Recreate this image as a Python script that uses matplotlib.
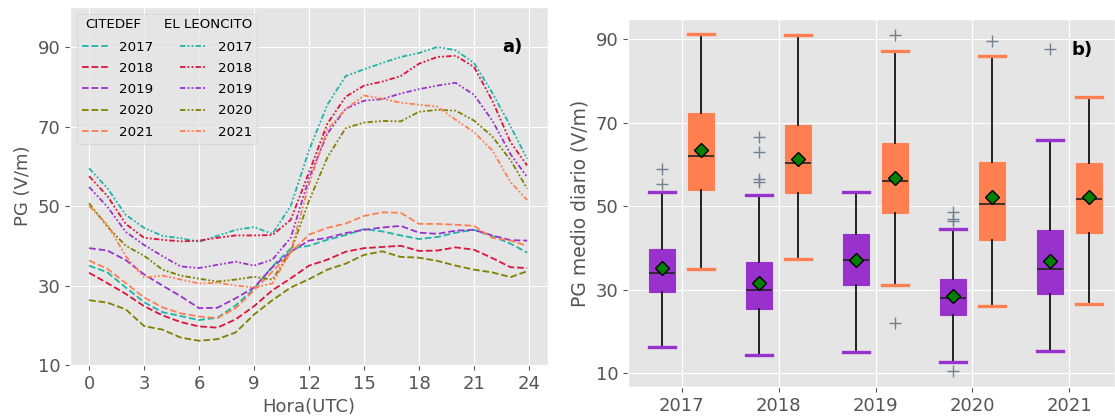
import matplotlib
matplotlib.use('Agg')
import matplotlib.pyplot as plt
from matplotlib.lines import Line2D
from matplotlib.legend_handler import HandlerBase
from matplotlib.text import Text

plt.style.use('ggplot')

# ---------------- data: panel a) ----------------
hours = [0, 1, 2, 3, 4, 5, 6, 7, 8, 9, 10, 11, 12, 13, 14, 15, 16, 17, 18, 19, 20, 21, 22, 23, 23.9]
years = ['2017', '2018', '2019', '2020', '2021']
colors = ['lightseagreen', 'crimson', 'darkorchid', 'olive', 'coral']

citedef_2017 = [35.0, 33.3, 29.5, 25.8, 23.3, 22.3, 21.3, 21.9, 25.0, 29.2, 34.8, 39.3, 40.0, 41.5, 42.7, 44.2, 43.6, 42.6, 41.7, 42.2, 43.3, 44.0, 42.4, 40.5, 38.3]
citedef_2018 = [33.2, 30.6, 27.9, 24.8, 22.5, 20.8, 19.7, 19.4, 21.5, 24.8, 28.8, 31.8, 35.0, 36.5, 38.5, 39.4, 39.7, 40.0, 38.7, 38.8, 39.6, 39.0, 36.9, 34.6, 34.4]
citedef_2019 = [39.4, 38.8, 36.4, 32.8, 30.0, 27.3, 24.3, 24.4, 26.8, 29.5, 34.6, 38.5, 41.3, 42.0, 43.2, 44.0, 44.6, 45.0, 43.3, 43.0, 43.8, 44.0, 42.6, 41.4, 41.3]
citedef_2020 = [26.3, 25.7, 24.0, 19.8, 18.9, 16.9, 16.1, 16.5, 18.2, 22.7, 26.3, 29.5, 31.6, 34.0, 35.5, 37.7, 38.6, 37.2, 37.0, 36.2, 35.0, 34.0, 33.3, 32.1, 33.6]
citedef_2021 = [36.3, 34.2, 30.6, 27.0, 24.5, 23.0, 22.2, 21.8, 24.3, 28.8, 33.5, 38.3, 42.8, 44.5, 45.6, 47.5, 48.4, 48.3, 45.5, 45.5, 45.3, 45.0, 42.0, 41.3, 40.0]

leoncito_2017 = [59.5, 54.5, 47.8, 44.5, 42.5, 41.9, 41.0, 42.5, 44.0, 44.7, 43.0, 50.0, 64.0, 75.5, 82.7, 84.4, 86.0, 87.5, 88.5, 90.0, 89.2, 86.0, 78.5, 70.0, 61.9]
leoncito_2018 = [57.5, 52.5, 45.5, 42.0, 41.5, 41.1, 41.3, 42.0, 42.6, 42.6, 42.7, 46.5, 58.5, 70.7, 77.5, 80.3, 81.3, 82.7, 85.8, 87.5, 87.8, 85.0, 76.5, 66.0, 60.2]
leoncito_2019 = [54.8, 49.8, 43.5, 40.2, 37.4, 34.8, 34.4, 35.2, 36.0, 35.0, 36.5, 42.0, 57.0, 68.2, 74.5, 76.5, 76.9, 78.3, 79.4, 80.3, 81.0, 78.0, 71.5, 63.0, 57.3]
leoncito_2020 = [50.7, 44.8, 40.0, 37.5, 34.0, 32.5, 31.7, 31.0, 31.5, 32.2, 31.5, 38.5, 51.3, 62.2, 69.6, 71.0, 71.4, 71.3, 73.7, 74.2, 74.0, 71.5, 67.5, 61.5, 54.4]
leoncito_2021 = [50.0, 45.3, 37.4, 32.0, 32.5, 31.5, 30.5, 30.7, 30.0, 29.5, 30.5, 38.5, 55.5, 69.2, 74.4, 77.8, 77.0, 76.0, 75.5, 75.0, 71.7, 68.6, 64.0, 56.0, 51.5]

citedef_series = [citedef_2017, citedef_2018, citedef_2019, citedef_2020, citedef_2021]
leoncito_series = [leoncito_2017, leoncito_2018, leoncito_2019, leoncito_2020, leoncito_2021]

# ---------------- data: panel b) ----------------
cit_whislo = [16.3, 14.3, 15.1, 12.7, 15.4]
cit_q1 = [29.4, 25.3, 31.1, 23.9, 28.9]
cit_med = [34.1, 29.9, 37.2, 28.1, 35.1]
cit_q3 = [39.7, 36.7, 43.4, 32.7, 44.3]
cit_whishi = [53.4, 52.8, 53.5, 44.6, 66.0]
cit_mean = [35.3, 31.7, 37.1, 28.6, 36.9]
cit_fliers = [[58.9, 55.3], [66.6, 63.1, 56.5, 55.9], [], [48.7, 46.9, 46.5, 10.6], [87.8]]

el_whislo = [35.1, 37.5, 31.1, 26.2, 26.6]
el_q1 = [53.8, 53.2, 48.4, 41.9, 43.5]
el_med = [62.1, 60.4, 56.1, 50.6, 51.7]
el_q3 = [72.3, 69.6, 65.1, 60.7, 60.5]
el_whishi = [91.2, 91.0, 87.1, 85.9, 76.2]
el_mean = [63.6, 61.4, 56.7, 52.2, 52.3]
el_fliers = [[], [], [91.0, 22.0], [89.5], []]

# ---------------- figure ----------------
fig = plt.figure(figsize=(11.15, 4.17), dpi=100)
fig.patch.set_facecolor('white')
ax1 = fig.add_axes([0.0628, 0.1247, 0.4287, 0.8578])
ax2 = fig.add_axes([0.5632, 0.0712, 0.4368, 0.8825])

dashdotdot = (0, (3, 1.2, 1, 1.2, 1, 1.2))
for yr, c, s in zip(years, colors, citedef_series):
    ax1.plot(hours, s, linestyle='--', color=c, lw=1.3, label=yr)
for yr, c, s in zip(years, colors, leoncito_series):
    ax1.plot(hours, s, linestyle=dashdotdot, color=c, lw=1.3, label=yr)

ax1.set_xlim(-1.04, 25.04)
ax1.set_ylim(10, 100)
ax1.set_xticks([0, 3, 6, 9, 12, 15, 18, 21, 24])
ax1.set_yticks([10, 30, 50, 70, 90])
ax1.tick_params(labelsize=13)
ax1.set_xlabel('Hora(UTC)', fontsize=13)
ax1.set_ylabel('PG (V/m)', fontsize=13)
ax1.text(0.925, 0.888, 'a)', transform=ax1.transAxes, fontsize=13,
         fontweight='bold', ha='center', va='center', color='black')


class HeaderHandler(HandlerBase):
    def __init__(self, text, dx):
        super().__init__()
        self.text = text
        self.dx = dx

    def create_artists(self, legend, orig_handle, xdescent, ydescent,
                       width, height, fontsize, trans):
        t = Text(-xdescent + self.dx, -ydescent + height / 2, self.text,
                 fontsize=fontsize, va='center', ha='left', color='black',
                 transform=trans)
        return [t]


lines = ax1.get_lines()
h_cit = Line2D([], [])
h_el = Line2D([], [])
handles = [h_cit] + list(lines[:5]) + [h_el] + list(lines[5:])
labels = [' '] + years + [' '] + years
ax1.legend(handles, labels, ncol=2, loc='upper left', fontsize=9.6,
           labelspacing=0.62,
           handler_map={h_cit: HeaderHandler('CITEDEF', 2),
                        h_el: HeaderHandler('EL LEONCITO', -12)})

# ---------------- panel b ----------------
def make_stats(lo, q1, med, q3, hi, mean, fl):
    return [dict(whislo=a, q1=b, med=m, q3=d, whishi=e, mean=mn, fliers=f)
            for a, b, m, d, e, mn, f in zip(lo, q1, med, q3, hi, mean, fl)]

cit_stats = make_stats(cit_whislo, cit_q1, cit_med, cit_q3, cit_whishi, cit_mean, cit_fliers)
el_stats = make_stats(el_whislo, el_q1, el_med, el_q3, el_whishi, el_mean, el_fliers)

for stats, offs, c in [(cit_stats, -0.2, 'darkorchid'), (el_stats, 0.2, 'coral')]:
    ax2.bxp(stats, positions=[i + offs for i in range(len(years))], widths=0.27,
            capwidths=0.27, patch_artist=True, showmeans=True, manage_ticks=False,
            boxprops=dict(facecolor=c, edgecolor=c, lw=0.8),
            medianprops=dict(color='#222222', lw=1.2),
            whiskerprops=dict(color='black', lw=1.2),
            capprops=dict(color=c, lw=2.4),
            meanprops=dict(marker='D', markerfacecolor='green',
                           markeredgecolor='black', markersize=7),
            flierprops=dict(marker='+', markeredgecolor='slategray',
                            markersize=9, markeredgewidth=1.0))

ax2.set_xlim(-0.554, 4.47)
ax2.set_ylim(6.65, 94.8)
ax2.set_xticks(range(len(years)))
ax2.set_xticklabels(years)
ax2.set_yticks([10, 30, 50, 70, 90])
ax2.tick_params(labelsize=13)
ax2.set_ylabel('PG medio diario (V/m)', fontsize=13.5)
ax2.text(0.932, 0.916, 'b)', transform=ax2.transAxes, fontsize=13,
         fontweight='bold', ha='center', va='center', color='black')

fig.savefig('out.png', dpi=100)
